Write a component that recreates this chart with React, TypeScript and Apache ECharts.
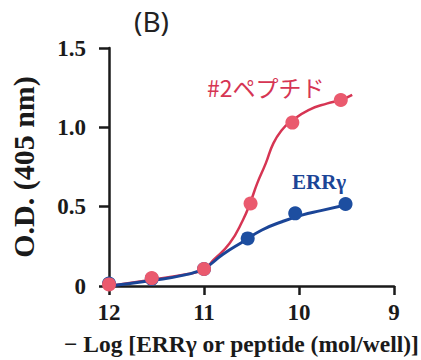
import React, { useEffect, useRef } from "react";
import * as echarts from "echarts";

// measured points
const peptideX = [12, 11.55, 11.0, 10.51, 10.07, 9.56];
const peptideY = [0.01, 0.05, 0.107, 0.52, 1.03, 1.172];
const errX = [12, 11.55, 11.0, 10.54, 10.04, 9.51];
const errY = [0.015, 0.045, 0.107, 0.3, 0.458, 0.517];

// fitted curves
const peptideCurveX = [12, 11.55, 11.2, 11.0, 10.9, 10.73, 10.59, 10.51, 10.44, 10.35, 10.27, 10.18, 10.09, 9.9, 9.7, 9.56, 9.44];
const peptideCurveY = [0.0, 0.04, 0.072, 0.105, 0.164, 0.269, 0.416, 0.53, 0.647, 0.773, 0.899, 0.983, 1.035, 1.109, 1.151, 1.172, 1.204];
const errCurveX = [12, 11.55, 11.2, 11.0, 10.8, 10.59, 10.39, 10.18, 9.97, 9.77, 9.51];
const errCurveY = [0.0, 0.035, 0.07, 0.11, 0.2, 0.279, 0.353, 0.405, 0.447, 0.475, 0.51];

const xTicks = [12, 11, 10, 9];
const yTicks = [0, 0.5, 1.0, 1.5];

const PINK_LINE = "#d63553";
const PINK_DOT = "#ea5a6e";
const BLUE_LINE = "#1b4597";
const BLUE_DOT = "#1d4ea0";
const AXIS = "#1a1a1a";
const SERIF = "'Liberation Serif', 'Times New Roman', serif";

const zip = (xs: number[], ys: number[]) => xs.map((x, i) => [x, ys[i]]);

export default function App() {
  const ref = useRef<HTMLDivElement>(null);
  useEffect(() => {
    if (!ref.current) return;
    const chart = echarts.init(ref.current, null, { renderer: "svg" });
    chart.setOption({
      animation: false,
      backgroundColor: "#ffffff",
      grid: { left: 104, right: 27, top: 48, bottom: 74, containLabel: false },
      xAxis: {
        type: "value",
        inverse: true,
        min: xTicks[3],
        max: xTicks[0],
        interval: 1,
        splitLine: { show: false },
        axisLine: { show: true, lineStyle: { color: AXIS, width: 2.5 } },
        axisTick: { show: true, length: 9, lineStyle: { color: AXIS, width: 2.5 } },
        axisLabel: {
          margin: 15,
          color: AXIS,
          fontFamily: SERIF,
          fontWeight: "bold",
          fontSize: 23,
          formatter: (v: number) => String(v),
        },
      },
      yAxis: {
        type: "value",
        min: yTicks[0],
        max: yTicks[3],
        interval: 0.5,
        splitLine: { show: false },
        axisLine: { show: true, lineStyle: { color: AXIS, width: 2.5 } },
        axisTick: { show: true, length: 10, lineStyle: { color: AXIS, width: 2.5 } },
        axisLabel: {
          margin: 23,
          color: AXIS,
          fontFamily: SERIF,
          fontWeight: "bold",
          fontSize: 23,
          formatter: (v: number) => (v === 0 ? "0" : v.toFixed(1)),
        },
        name: "O.D. (405 nm)",
        nameLocation: "middle",
        nameGap: 71,
        nameRotate: 90,
        nameTextStyle: { color: AXIS, fontFamily: SERIF, fontWeight: "bold", fontSize: 30 },
      },
      graphic: [
        {
          type: "text",
          x: 134,
          y: 21,
          style: {
            text: "(B)",
            font: "28px 'Noto Sans', sans-serif",
            fill: "#222",
            textVerticalAlign: "middle",
          },
        },
        {
          type: "text",
          x: 207,
          y: 87,
          style: {
            text: "#2ペプチド",
            font: "23px 'Noto Sans CJK JP', sans-serif",
            fill: PINK_LINE,
            textVerticalAlign: "middle",
          },
        },
        {
          type: "text",
          x: 292,
          y: 182,
          style: {
            text: "ERRγ",
            font: `bold 21px ${SERIF}`,
            fill: BLUE_LINE,
            textVerticalAlign: "middle",
          },
        },
        {
          type: "text",
          x: 64,
          y: 344,
          style: {
            text: "− Log [ERRγ or peptide (mol/well)]",
            font: `bold 23.5px ${SERIF}`,
            fill: AXIS,
            textVerticalAlign: "middle",
          },
        },
      ],
      series: [
        {
          type: "line",
          data: zip(peptideCurveX, peptideCurveY),
          smooth: true,
          showSymbol: false,
          lineStyle: { color: PINK_LINE, width: 2.5 },
          z: 2,
        },
        {
          type: "line",
          data: zip(errCurveX, errCurveY),
          smooth: true,
          showSymbol: false,
          lineStyle: { color: BLUE_LINE, width: 3 },
          z: 3,
        },
        {
          type: "scatter",
          data: zip(errX, errY),
          symbolSize: 14,
          itemStyle: { color: BLUE_DOT, opacity: 1 },
          z: 4,
        },
        {
          type: "scatter",
          data: zip(peptideX, peptideY),
          symbolSize: 14,
          itemStyle: { color: PINK_DOT, opacity: 1 },
          z: 5,
        },
      ],
    });
    return () => chart.dispose();
  }, []);
  return (
    <div
      ref={ref}
      style={{ position: "absolute", left: 0, top: 0, width: 421, height: 360 }}
    />
  );
}
